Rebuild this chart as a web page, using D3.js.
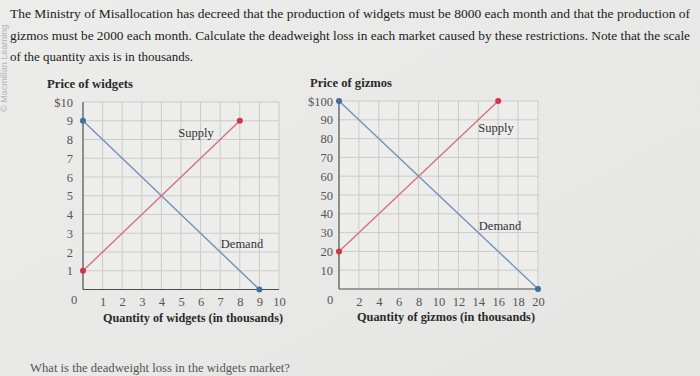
<!DOCTYPE html>
<html><head><meta charset="utf-8">
<script src="https://cdn.jsdelivr.net/npm/d3@7"></script>
<style>
html,body{margin:0;padding:0;background:#e9e9e7;}
svg{display:block;}
text{font-family:"Liberation Serif","DejaVu Serif",serif;}
</style></head>
<body>
<svg id="c" width="700" height="376"></svg>
<script>
// ---- data ----
const questionLines = [
  "The Ministry of Misallocation has decreed that the production of widgets must be 8000 each month and that the production of",
  "gizmos must be 2000 each month. Calculate the deadweight loss in each market caused by these restrictions. Note that the scale",
  "of the quantity axis is in thousands."
];
const bottomQuestion = "What is the deadweight loss in the widgets market?";
const creditText = "\u00A9 Macmillan Learning";

const widgetXTicks = [1,2,3,4,5,6,7,8,9,10];
const widgetYTicks = [1,2,3,4,5,6,7,8,9,10];
const widgetYLabels = ["1","2","3","4","5","6","7","8","9","$10"];
const widgetDemand = [{q:0,p:9},{q:9,p:0}];
const widgetSupply = [{q:0,p:1},{q:8,p:9}];

const gizmoXTicks = [2,4,6,8,10,12,14,16,18,20];
const gizmoYTicks = [10,20,30,40,50,60,70,80,90,100];
const gizmoYLabels = ["10","20","30","40","50","60","70","80","90","$100"];
const gizmoDemand = [{q:0,p:100},{q:20,p:0}];
const gizmoSupply = [{q:0,p:20},{q:16,p:100}];

// ---- drawing ----
const svg = d3.select("#c");
const demandLine = "#7092b8", supplyLine = "#d9707f";
const demandDot = "#3f6f9c", supplyDot = "#cf3448";

const defs = svg.append("defs");
const lg = defs.append("linearGradient").attr("id","bg").attr("x1",0).attr("y1",0).attr("x2",1).attr("y2",1);
lg.append("stop").attr("offset","0%").attr("stop-color","#ececea");
lg.append("stop").attr("offset","100%").attr("stop-color","#e5e5e3");
svg.append("rect").attr("width",700).attr("height",376).attr("fill","url(#bg)");

// credit (rotated)
svg.append("text").attr("transform","translate(7,112) rotate(-90)")
  .style("font-family","'Liberation Sans',Arial,sans-serif")
  .attr("font-size",9).attr("fill","#b0b8c2").text(creditText);

// question text
const qWidths = [680, 680, 183];
questionLines.forEach((t,i)=>{
  svg.append("text").attr("x",10).attr("y",18 + i*21.5)
    .attr("font-size",13.5).attr("fill","#222")
    .attr("textLength",qWidths[i]).attr("lengthAdjust","spacingAndGlyphs")
    .text(t);
});

svg.append("text").attr("x",30).attr("y",372).attr("font-size",12.5).attr("fill","#555")
  .attr("textLength",260).attr("lengthAdjust","spacingAndGlyphs").text(bottomQuestion);

function panel(cfg){
  const x = d3.scaleLinear().domain([0,cfg.xMax]).range([cfg.x0,cfg.x1]);
  const y = d3.scaleLinear().domain([0,cfg.yMax]).range([cfg.y0,cfg.y1]);
  const g = svg.append("g");
  g.append("rect").attr("x",cfg.x0).attr("y",cfg.y1).attr("width",cfg.x1-cfg.x0).attr("height",cfg.y0-cfg.y1).attr("fill","#ededeb");
  g.selectAll(".vg").data(cfg.xTicks).join("line")
    .attr("x1",d=>x(d)).attr("x2",d=>x(d)).attr("y1",y(0)).attr("y2",y(cfg.yMax))
    .attr("stroke","#cbcbc9").attr("stroke-width",1);
  g.selectAll(".hg").data(cfg.yTicks).join("line")
    .attr("y1",d=>y(d)).attr("y2",d=>y(d)).attr("x1",x(0)).attr("x2",x(cfg.xMax))
    .attr("stroke","#cbcbc9").attr("stroke-width",1);
  g.append("line").attr("x1",x(0)).attr("x2",x(0)).attr("y1",y(0)).attr("y2",y(cfg.yMax)).attr("stroke","#4d4d4d").attr("stroke-width",1.2);
  g.append("line").attr("x1",x(0)).attr("x2",x(cfg.xMax)).attr("y1",y(0)).attr("y2",y(0)).attr("stroke","#4d4d4d").attr("stroke-width",1.2);
  const ax = g.append("g").attr("transform",`translate(0,${y(0)+5})`)
    .call(d3.axisBottom(x).tickValues(cfg.xTicks).tickSize(0).tickFormat(d3.format("d")));
  ax.select(".domain").remove();
  ax.selectAll("text").attr("font-size",12.5).attr("fill","#555").style("font-family","'Liberation Serif',serif").attr("dy","0.71em");
  const ay = g.append("g").attr("transform",`translate(${x(0)-cfg.yLabOff},0)`)
    .call(d3.axisLeft(y).tickValues(cfg.yTicks).tickSize(0).tickFormat((d,i)=>cfg.yLabels[i]));
  ay.select(".domain").remove();
  ay.selectAll("text").attr("font-size",12.5).attr("fill","#555").style("font-family","'Liberation Serif',serif").attr("x",0);
  g.append("text").attr("x",x(0)-9).attr("y",y(0)+14.5).attr("text-anchor","middle").attr("font-size",12.5).attr("fill","#555").text("0");
  g.append("text").attr("x",cfg.ytX).attr("y",cfg.ytY).attr("font-size",12.5).attr("font-weight","bold").attr("fill","#2a2a2a")
    .attr("textLength",cfg.ytW).attr("lengthAdjust","spacingAndGlyphs").text(cfg.yTitle);
  g.append("text").attr("x",cfg.xtX).attr("y",cfg.xtY).attr("font-size",12.5).attr("font-weight","bold").attr("fill","#2a2a2a")
    .attr("textLength",cfg.xtW).attr("lengthAdjust","spacingAndGlyphs").text(cfg.xTitle);
  const line = d3.line().x(d=>x(d.q)).y(d=>y(d.p));
  g.append("path").datum(cfg.demand).attr("d",line).attr("fill","none").attr("stroke",demandLine).attr("stroke-width",1.4);
  g.append("path").datum(cfg.supply).attr("d",line).attr("fill","none").attr("stroke",supplyLine).attr("stroke-width",1.4);
  g.selectAll(".dd").data(cfg.demand).join("circle").attr("cx",d=>x(d.q)).attr("cy",d=>y(d.p)).attr("r",3).attr("fill",demandDot);
  g.selectAll(".sd").data(cfg.supply).join("circle").attr("cx",d=>x(d.q)).attr("cy",d=>y(d.p)).attr("r",3).attr("fill",supplyDot);
  g.append("text").attr("x",cfg.supLab[0]).attr("y",cfg.supLab[1]).attr("text-anchor","middle").attr("font-size",12.5).attr("fill","#333").text("Supply");
  g.append("text").attr("x",cfg.demLab[0]).attr("y",cfg.demLab[1]).attr("text-anchor","middle").attr("font-size",12.5).attr("fill","#333").text("Demand");
}

panel({
  xMax:10, yMax:10, x0:83, x1:279, y0:289.5, y1:102, yLabOff:10,
  xTicks:widgetXTicks, yTicks:widgetYTicks, yLabels:widgetYLabels,
  demand:widgetDemand, supply:widgetSupply,
  yTitle:"Price of widgets", ytX:47, ytY:88, ytW:86,
  xTitle:"Quantity of widgets (in thousands)", xtX:103, xtY:322, xtW:180,
  supLab:[196,137], demLab:[242,248]
});
panel({
  xMax:20, yMax:100, x0:339, x1:538, y0:289, y1:101, yLabOff:6,
  xTicks:gizmoXTicks, yTicks:gizmoYTicks, yLabels:gizmoYLabels,
  demand:gizmoDemand, supply:gizmoSupply,
  yTitle:"Price of gizmos", ytX:310, ytY:87, ytW:82,
  xTitle:"Quantity of gizmos (in thousands)", xtX:357, xtY:321, xtW:178,
  supLab:[496,132], demLab:[500,230]
});
</script>
</body></html>
